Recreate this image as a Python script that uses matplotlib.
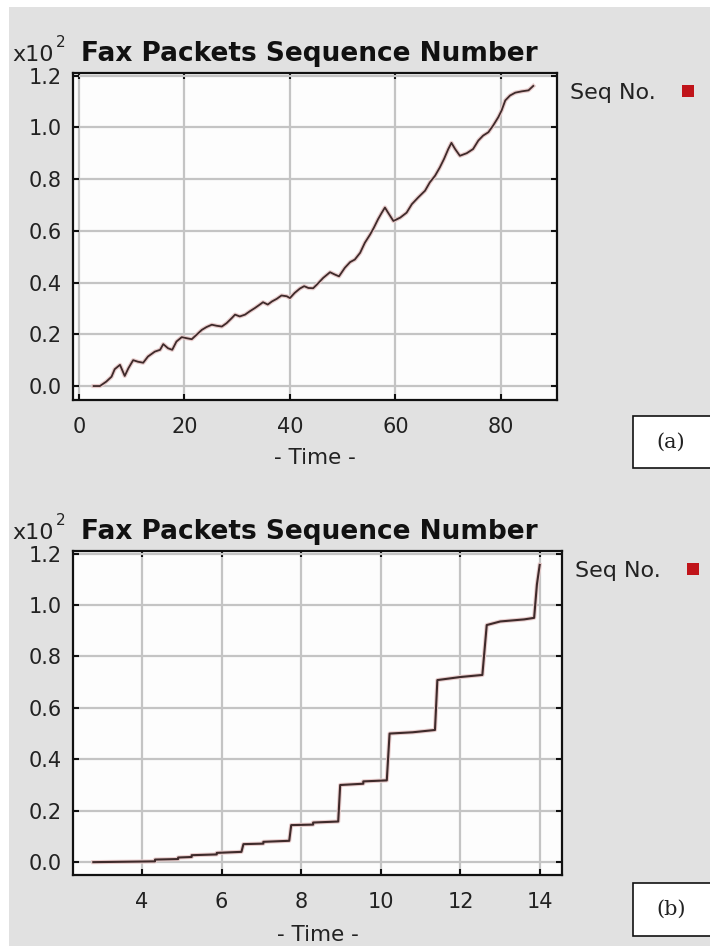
import matplotlib
matplotlib.use("Agg")
import matplotlib.pyplot as plt
from matplotlib.patches import Rectangle

# panel (a): sequence number vs time (values in units of x10^2)
time_a = [2.8, 4, 5.2, 6.2, 6.8, 7.8, 8.7, 9.4, 10.3, 11.2,
          12.2, 13.1, 14.4, 15.4, 16.0, 16.9, 17.7, 18.5, 19.5, 20.4,
          21.4, 22.3, 23.3, 24.2, 25.2, 26.1, 27.1, 28.0, 29.0, 29.6,
          30.5, 31.5, 32.4, 33.4, 34.3, 34.9, 35.8, 36.6, 37.5, 38.4,
          39.4, 40.0, 40.9, 41.9, 42.7, 43.5, 44.4, 45.1, 46.3, 47.6,
          48.5, 49.3, 50.4, 51.4, 52.3, 53.3, 54.2, 55.2, 55.9, 56.7,
          57.4, 58.0, 58.6, 59.6, 60.9, 62.1, 63.1, 64.3, 65.6, 66.5,
          67.5, 68.4, 69.2, 70.0, 70.6, 71.3, 72.2, 73.5, 74.7, 75.7,
          76.6, 77.6, 78.5, 79.5, 80.1, 80.8, 81.7, 82.7, 83.9, 85.2,
          86.1]
seq_a = [0.0, 0.0, 0.017, 0.036, 0.065, 0.082, 0.039, 0.069, 0.10, 0.094,
         0.09, 0.114, 0.133, 0.14, 0.162, 0.146, 0.14, 0.172, 0.189, 0.185,
         0.181, 0.198, 0.217, 0.228, 0.237, 0.233, 0.23, 0.243, 0.263, 0.276,
         0.269, 0.276, 0.289, 0.302, 0.315, 0.324, 0.315, 0.327, 0.337, 0.35,
         0.347, 0.34, 0.36, 0.377, 0.386, 0.379, 0.378, 0.392, 0.418, 0.44,
         0.431, 0.424, 0.457, 0.479, 0.489, 0.515, 0.554, 0.586, 0.612, 0.645,
         0.67, 0.69, 0.67, 0.638, 0.651, 0.67, 0.703, 0.729, 0.755, 0.787,
         0.813, 0.845, 0.878, 0.916, 0.94, 0.916, 0.89, 0.90, 0.916, 0.949,
         0.968, 0.981, 1.007, 1.04, 1.065, 1.104, 1.123, 1.134, 1.139, 1.143,
         1.16]

# panel (b): stepwise sequence number vs time
time_b = [2.78, 4.33, 4.33, 4.91, 4.91, 5.25, 5.25, 5.88, 5.88, 6.5,
          6.55, 7.05, 7.05, 7.70, 7.75, 8.30, 8.30, 8.93, 8.98, 9.56,
          9.56, 10.15, 10.22, 10.8, 11.36, 11.42, 12.0, 12.55, 12.66, 13.0,
          13.6, 13.85, 13.92, 13.99]
seq_b = [0.0, 0.003, 0.01, 0.012, 0.018, 0.02, 0.027, 0.03, 0.036, 0.04,
         0.07, 0.072, 0.079, 0.083, 0.144, 0.146, 0.154, 0.158, 0.30, 0.305,
         0.314, 0.318, 0.50, 0.505, 0.514, 0.708, 0.72, 0.728, 0.922, 0.936,
         0.944, 0.95, 1.08, 1.156]

xticks_a = [0, 20, 40, 60, 80]
xticks_b = [4, 6, 8, 10, 12, 14]
yticks = [0.0, 0.2, 0.4, 0.6, 0.8, 1.0, 1.2]

W, H = 710, 946
BG = '#e1e1e1'
LINE = '#3e2a2a'
HALO = '#e8cccc'


def fx(px):
    return px / W


def fy(py):
    return 1 - py / H


def make_axes(fig, left, top, right, bottom):
    ax = fig.add_axes([fx(left), fy(bottom), (right - left) / W, (bottom - top) / H])
    ax.set_facecolor('#fdfdfd')
    for s in ax.spines.values():
        s.set_color('#111111')
        s.set_linewidth(1.6)
    ax.tick_params(direction='in', top=True, right=True, length=4, width=1.5,
                   color='#111111', labelsize=15, labelcolor='#222222')
    ax.tick_params(axis='x', pad=12)
    ax.tick_params(axis='y', pad=8)
    ax.grid(True, color='#c4c4c4', linewidth=1.6)
    ax.set_axisbelow(True)
    ax.set_yticks(yticks)
    ax.set_yticklabels(['%.1f' % v for v in yticks])
    return ax


def decorate(fig, title_y, legend_x, legend_y, square_x, box_top, box_bottom, label, xlabel_x, xlabel_y):
    fig.text(fx(12), fy(title_y), 'x10', fontsize=16, color='#222222', va='baseline')
    fig.text(fx(56), fy(title_y - 14), '2', fontsize=11, color='#222222', va='baseline')
    fig.text(fx(81), fy(title_y), 'Fax Packets Sequence Number', fontsize=19,
             weight='bold', color='#111111', va='baseline')
    fig.text(fx(legend_x), fy(legend_y), 'Seq No.', fontsize=16, color='#222222', va='center')
    fig.patches.append(Rectangle((fx(square_x - 6), fy(legend_y + 4)), 12 / W, 12 / H,
                                 transform=fig.transFigure, facecolor='#c0141a',
                                 edgecolor='none'))
    fig.patches.append(Rectangle((fx(633), fy(box_bottom)), 80 / W, (box_bottom - box_top) / H,
                                 transform=fig.transFigure, facecolor='white',
                                 edgecolor='#111111', linewidth=1.2))
    fig.text(fx(671), fy((box_top + box_bottom) / 2), label, fontsize=15,
             family='DejaVu Serif', ha='center', va='center', color='#222222')
    fig.text(fx(xlabel_x), fy(xlabel_y), '- Time -', fontsize=15.5, ha='center',
             va='center', color='#222222')


fig = plt.figure(figsize=(W / 100, H / 100), dpi=100, facecolor='white')
fig.patches.append(Rectangle((fx(9), 0), 1, fy(7), transform=fig.transFigure,
                             facecolor=BG, edgecolor='none', zorder=-10))

ax1 = make_axes(fig, 73, 73, 557, 400)
ax1.plot(time_a, seq_a, color=HALO, linewidth=3.0)
ax1.plot(time_a, seq_a, color=LINE, linewidth=1.3)
ax1.set_xticks(xticks_a)
ax1.set_xlim(-1.1, 90.6)
ax1.set_ylim(-0.054, 1.21)
decorate(fig, 61, 570, 93, 688, 416, 468, '(a)', 315, 458)

ax2 = make_axes(fig, 73, 551, 562, 875)
ax2.plot(time_b, seq_b, color=HALO, linewidth=3.0)
ax2.plot(time_b, seq_b, color=LINE, linewidth=1.5)
ax2.set_xticks(xticks_b)
ax2.set_xlim(2.27, 14.55)
ax2.set_ylim(-0.05, 1.21)
decorate(fig, 539, 575, 571, 693, 883, 936, '(b)', 318, 935)

fig.savefig('out.png', dpi=100, facecolor=fig.get_facecolor())
